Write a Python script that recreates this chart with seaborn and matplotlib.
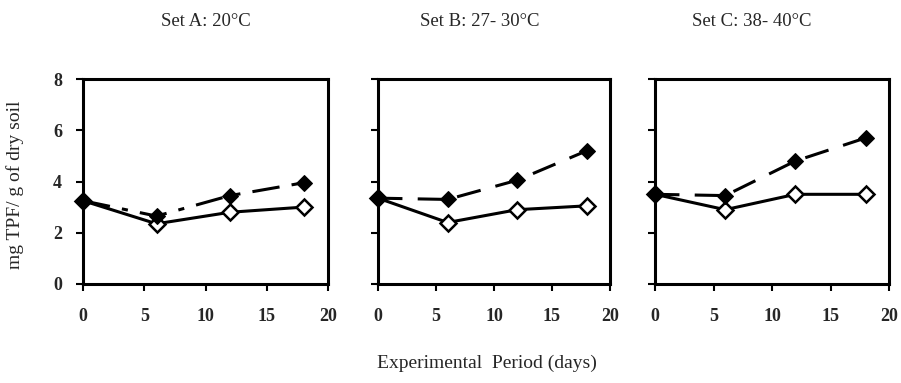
import matplotlib
matplotlib.use("Agg")
import matplotlib.pyplot as plt
import seaborn as sns
import pandas as pd

days = [0, 6, 12, 18]
panels = ["Set A: 20°C", "Set B: 27- 30°C", "Set C: 38- 40°C"]
filled_A = [3.25, 2.65, 3.45, 3.95]
open_A = [3.25, 2.35, 2.8, 3.0]
filled_B = [3.35, 3.3, 4.05, 5.2]
open_B = [3.35, 2.4, 2.9, 3.05]
filled_C = [3.5, 3.45, 4.8, 5.7]
open_C = [3.5, 2.9, 3.5, 3.5]
xticks = [0, 5, 10, 15, 20]
yticks = [0, 2, 4, 6, 8]

sns.set_theme(style="white")
plt.rcParams['font.family'] = ['Liberation Serif', 'DejaVu Serif']

W, H = 901, 383
fig = plt.figure(figsize=(W / 100, H / 100), dpi=100)

boxes = [(83, 328), (378, 610), (655, 889)]
top, bot = 79, 284
filled = [filled_A, filled_B, filled_C]
opened = [open_A, open_B, open_C]
dash_styles = [(0, (9, 4, 2, 4)), (0, (8, 5)), (0, (8, 5))]
title_x = [206, 480, 752]

for i, (l, r) in enumerate(boxes):
    ax = fig.add_axes([l / W, 1 - bot / H, (r - l) / W, (bot - top) / H])
    df_f = pd.DataFrame({"day": days, "val": filled[i]})
    df_o = pd.DataFrame({"day": days, "val": opened[i]})
    sns.lineplot(data=df_o, x="day", y="val", ax=ax, color="black", lw=2.2,
                 marker="D", markersize=8, markerfacecolor="white",
                 markeredgecolor="black", markeredgewidth=1.8, zorder=3,
                 clip_on=False)
    sns.lineplot(data=df_f, x="day", y="val", ax=ax, color="black", lw=2.2,
                 linestyle=dash_styles[i], marker="D", markersize=8,
                 markerfacecolor="black", markeredgecolor="black", zorder=4,
                 clip_on=False)
    ax.set_xlim(0, 20)
    ax.set_ylim(0, 8)
    ax.set_xticks(xticks)
    ax.set_yticks(yticks)
    ax.set_xlabel("")
    ax.set_ylabel("")
    for s in ax.spines.values():
        s.set_linewidth(2.2)
        s.set_color("black")
    ax.tick_params(axis="both", direction="out", length=5, width=1.5,
                   color="black", left=True, bottom=True)
    ax.tick_params(axis="x", pad=12)
    ax.set_xticklabels([str(t) for t in xticks], fontsize=13, fontweight="bold")
    if i == 0:
        ax.set_yticklabels([str(t) for t in yticks], fontsize=13, fontweight="bold")
        ax.tick_params(axis="y", pad=10)
    else:
        ax.set_yticklabels([])
    fig.text(title_x[i] / W, 1 - 22 / H, panels[i], ha="center", va="center",
             fontsize=13.5)

fig.text(487 / W, 1 - 363 / H, "Experimental  Period (days)", ha="center",
         va="center", fontsize=14)
fig.text(15 / W, 1 - 185 / H, "mg TPF/ g of dry soil", ha="center", va="center",
         rotation=90, fontsize=14)

fig.savefig("out.png", dpi=100)
